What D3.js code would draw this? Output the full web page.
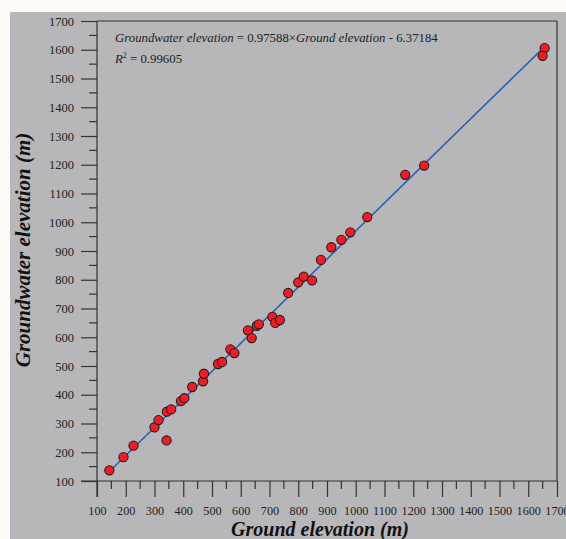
<!DOCTYPE html>
<html><head><meta charset="utf-8">
<script src="https://cdn.jsdelivr.net/npm/d3@7"></script>
<style>
body{margin:0;background:#fdfaf8;}
svg{display:block;}
svg text{font-family:"Liberation Serif","Tinos","Times New Roman","DejaVu Serif",serif !important;}
</style></head>
<body>
<svg id="c" width="566" height="539"></svg>
<script>
const groundElevation = [143,192,227,300,314,343,358,342,392,404,431,469,472,521,535,564,578,625,638,656,663,710,720,736,765,800,819,848,879,915,950,981,1040,1172,1238,1657,1650];
const groundwaterElevation = [137,183,223,287,312,341,349,241,378,388,427,447,473,507,514,558,545,624,597,640,645,671,650,660,754,791,811,798,869,913,939,965,1018,1165,1197,1606,1579];
const xTicks = [100,200,300,400,500,600,700,800,900,1000,1100,1200,1300,1400,1500,1600,1700];
const yTicks = [100,200,300,400,500,600,700,800,900,1000,1100,1200,1300,1400,1500,1600,1700];
const slope = 0.97588, intercept = -6.37184;
const fitRange = [143,1657];

const svg = d3.select("#c");
svg.append("rect").attr("x",10).attr("y",12).attr("width",556).attr("height",527).attr("fill","#b7b7b9");

const L=97,R=557,T=21,B=481;
const x = d3.scaleLinear().domain([100,1700]).range([L,R]);
const y = d3.scaleLinear().domain([100,1700]).range([B,T]);
const axisColor="#333";

// frame
svg.append("line").attr("x1",L).attr("x2",R).attr("y1",T).attr("y2",T).attr("stroke",axisColor).attr("stroke-width",1.2);
svg.append("line").attr("x1",R).attr("x2",R).attr("y1",T).attr("y2",B).attr("stroke",axisColor).attr("stroke-width",1.2);

// y axis
const yAx = svg.append("g").attr("transform",`translate(${L},0)`)
  .call(d3.axisLeft(y).tickValues(yTicks).tickSize(16).tickPadding(7).tickFormat(d3.format("d")));
yAx.select(".domain").remove();
yAx.append("line").attr("x1",0).attr("x2",0).attr("y1",T).attr("y2",B+16).attr("stroke",axisColor).attr("stroke-width",1.2);
yAx.selectAll(".tick line").attr("stroke",axisColor).attr("stroke-width",1.2);
yAx.selectAll(".tick text").attr("fill","#222").attr("font-size",12.5);
const yMinor = d3.range(150,1700,100);
svg.append("g").selectAll("line").data(yMinor).join("line")
  .attr("x1",L-8).attr("x2",L).attr("y1",d=>y(d)).attr("y2",d=>y(d)).attr("stroke",axisColor).attr("stroke-width",1.2);

// x axis
const xAx = svg.append("g").attr("transform",`translate(0,${B})`)
  .call(d3.axisBottom(x).tickValues(xTicks).tickSize(16).tickPadding(9).tickFormat(d3.format("d")));
xAx.select(".domain").remove();
xAx.append("line").attr("x1",L-16).attr("x2",R).attr("y1",0).attr("y2",0).attr("stroke",axisColor).attr("stroke-width",1.2);
xAx.selectAll(".tick line").attr("stroke",axisColor).attr("stroke-width",1.2);
xAx.selectAll(".tick text").attr("fill","#222").attr("font-size",12.2);
const xMinor = d3.range(150,1700,100);
svg.append("g").selectAll("line").data(xMinor).join("line")
  .attr("x1",d=>x(d)).attr("x2",d=>x(d)).attr("y1",B).attr("y2",B+8).attr("stroke",axisColor).attr("stroke-width",1.2);

// fit line
svg.append("line")
  .attr("x1",x(fitRange[0])).attr("y1",y(slope*fitRange[0]+intercept))
  .attr("x2",x(fitRange[1])).attr("y2",y(slope*fitRange[1]+intercept))
  .attr("stroke","#2a62b6").attr("stroke-width",1.6);

// points
svg.append("g").selectAll("circle").data(groundElevation.map((g,i)=>[g,groundwaterElevation[i]])).join("circle")
  .attr("cx",d=>x(d[0])).attr("cy",d=>y(d[1])).attr("r",4.6)
  .attr("fill","#ee1c25").attr("stroke","#2a1a1a").attr("stroke-width",1.1);

// equation
const eq = svg.append("text").attr("x",115).attr("y",42).attr("fill","#222").attr("font-size",12.8);
eq.append("tspan").attr("font-style","italic").text("Groundwater elevation");
eq.append("tspan").text(" = 0.97588×");
eq.append("tspan").attr("font-style","italic").text("Ground elevation");
eq.append("tspan").text(" - 6.37184");
const r2 = svg.append("text").attr("x",115).attr("y",63).attr("fill","#222").attr("font-size",12.8);
r2.append("tspan").attr("font-style","italic").text("R");
r2.append("tspan").attr("dy",-5).attr("font-size",8).text("2");
r2.append("tspan").attr("dy",5).text(" = 0.99605");

// axis titles
svg.append("text").attr("x",320).attr("y",536).attr("text-anchor","middle")
  .attr("font-weight","bold").attr("font-style","italic").attr("font-size",20).attr("fill","#111")
  .text("Ground elevation (m)");
svg.append("text").attr("transform","translate(30,250) rotate(-90)").attr("text-anchor","middle")
  .attr("font-weight","bold").attr("font-style","italic").attr("font-size",21).attr("fill","#111")
  .text("Groundwater elevation (m)");
</script>
</body></html>
